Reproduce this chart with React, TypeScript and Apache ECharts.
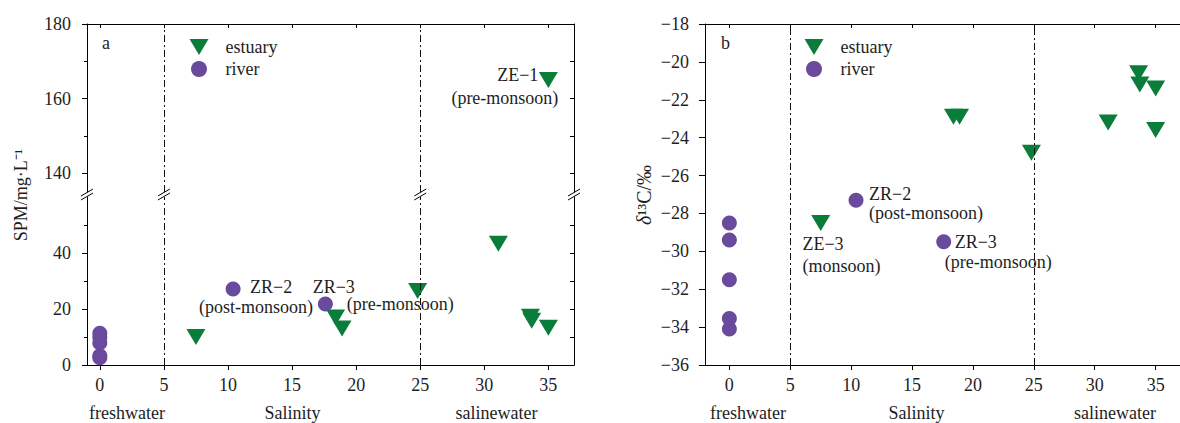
import React, { useEffect, useRef } from 'react';
import * as echarts from 'echarts';

// ---------- data ----------
const salinityTicks = [0, 5, 10, 15, 20, 25, 30, 35];
const spmUpperLabels = [140, 160, 180];
const spmUpperMinor = [150, 170];
const spmUpperRight = [140, 150, 160, 170, 180];
const spmLowerLabels = [0, 20, 40];
const spmLowerMinor = [10, 30, 50];
const spmLowerRight = [10, 20, 30, 40, 50];
const zoneBounds = [5, 25];
const zoneNames = ['freshwater', 'Salinity', 'salinewater'];
const legendNames = ['estuary', 'river'];
const panelLetters = ['a', 'b'];

const estuarySalinity = [7.5, 18.4, 18.9, 24.8, 31.1, 33.6, 33.7, 35.0, 35.0];
const estuarySPM = [10, 17, 13, 26.4, 43.3, 17.2, 15.8, 13.3, 165];
const estuaryD13C = [-28.5, -22.9, -22.9, -24.8, -23.2, -20.6, -21.2, -23.6, -21.4];

const riverSalinity = [0, 0, 0, 0, 0, 10.4, 17.6];
const riverSPM = [11.3, 9.8, 7.9, 3.3, 2.6, 27.1, 21.8];
const riverD13C = [-28.5, -29.4, -31.5, -33.55, -34.1, -27.3, -29.5];

// annotations
const noteZE1 = ['ZE\u22121', '(pre-monsoon)'];
const noteZE3 = ['ZE\u22123', '(monsoon)'];
const noteZR2 = ['ZR\u22122', '(post-monsoon)'];
const noteZR3 = ['ZR\u22123', '(pre-monsoon)'];

const SPM_BREAK = 100;

// ---------- styles ----------
const FONT = 'Liberation Serif';
const TXT = '#1e1e1e';
const GREEN = '#0a7d3a';
const PURPLE = '#6a4a9c';
const TRI = 'path://M0 0L19 0L9.5 16Z';

const lbl = (extra: any = {}) => ({
  fontFamily: FONT,
  fontSize: 18,
  color: TXT,
  ...extra,
});

function noteLabel(lines: string[], dx: number, dy: number, align: string, lh: number, pad1: number[], pad2: number[]) {
  return {
    show: true,
    position: 'inside',
    offset: [dx, dy],
    align,
    verticalAlign: 'middle',
    formatter: `{a|${lines[0]}}\n{b|${lines[1]}}`,
    rich: {
      a: lbl({ lineHeight: lh, padding: pad1 }),
      b: lbl({ lineHeight: lh, padding: pad2 }),
    },
  };
}

const axisLineStyle = { color: '#000', width: 1 };

function xAxisBase(grid: number, min: number, max: number, position: string, tickInside: boolean, showLabels: boolean) {
  return {
    type: 'value',
    gridIndex: grid,
    min,
    max,
    position,
    axisLine: { show: true, onZero: false, lineStyle: axisLineStyle },
    axisTick: { show: true, inside: tickInside, length: tickInside ? 4 : 5, customValues: salinityTicks, lineStyle: axisLineStyle },
    axisLabel: showLabels ? { show: true, customValues: salinityTicks, margin: 11, ...lbl() } : { show: false },
    splitLine: { show: false },
  };
}

function yAxisBase(grid: number, min: number, max: number, position: string, opts: any) {
  return {
    type: 'value',
    gridIndex: grid,
    min,
    max,
    position,
    axisLine: { show: opts.line, onZero: false, lineStyle: axisLineStyle },
    axisTick: { show: true, inside: !!opts.inside, length: opts.len, customValues: opts.ticks, lineStyle: axisLineStyle },
    axisLabel: opts.labels ? { show: true, customValues: opts.labels, margin: 16, ...lbl() } : { show: false },
    splitLine: { show: false },
  };
}

const zoneMarkLine = {
  silent: true,
  symbol: 'none',
  label: { show: false },
  lineStyle: { type: [7, 3, 2, 3], color: '#111', width: 1 },
  data: zoneBounds.map((v) => ({ xAxis: v })),
};

export default function App() {
  const ref = useRef<HTMLDivElement>(null);

  useEffect(() => {
    document.body.style.margin = '0';
    const chart = echarts.init(ref.current!, null, { renderer: 'svg' });

    const estUpper: any[] = [];
    const estLower: any[] = [];
    estuarySalinity.forEach((x, i) => {
      const item: any = { value: [x, estuarySPM[i]] };
      if (i === 8) item.label = noteLabel(noteZE1, 10, 6.5, 'right', 23, [0, 20, 0, 0], [0, 0, 0, 0]);
      (estuarySPM[i] > SPM_BREAK ? estUpper : estLower).push(item);
    });
    const rivLower = riverSalinity.map((x, i) => {
      const item: any = { value: [x, riverSPM[i]] };
      if (i === 5) item.label = noteLabel(noteZR2, -34, 8, 'left', 20, [0, 0, 0, 51], [0, 0, 0, 0]);
      if (i === 6) item.label = noteLabel(noteZR3, -12.7, -8.4, 'left', 17, [0, 0, 0, 0], [0, 0, 0, 34]);
      return item;
    });
    const estRight = estuarySalinity.map((x, i) => {
      const item: any = { value: [x, estuaryD13C[i]] };
      if (i === 0) item.label = noteLabel(noteZE3, -18.3, 31.8, 'left', 21.7, [0, 0, 0, 0], [0, 0, 0, 0]);
      return item;
    });
    const rivRight = riverSalinity.map((x, i) => {
      const item: any = { value: [x, riverD13C[i]] };
      if (i === 5) item.label = noteLabel(noteZR2, 13, 3.8, 'left', 19, [0, 0, 0, 0], [0, 0, 0, 0]);
      if (i === 6) item.label = noteLabel(noteZR3, 1, 10.3, 'left', 20.6, [0, 0, 0, 10], [0, 0, 0, 0]);
      return item;
    });

    const estStyle = { symbol: TRI, symbolSize: [19, 16], itemStyle: { color: GREEN, opacity: 1 } };
    const rivStyle = { symbol: 'circle', symbolSize: 15, itemStyle: { color: PURPLE, opacity: 1 } };

    const legendBase = (left: number) => ({
      left,
      top: 38,
      padding: 0,
      orient: 'vertical',
      itemWidth: 19,
      itemHeight: 16,
      itemGap: 4,
      selectedMode: false,
      data: [
        { name: legendNames[0], icon: TRI },
        { name: legendNames[1], icon: 'circle' },
      ],
      textStyle: lbl({ padding: [0, 0, 0, 12] }),
    });

    chart.setOption({
      animation: false,
      grid: [
        { left: 87, top: 24, width: 487, height: 168 },
        { left: 87, top: 197, width: 487, height: 168 },
        { left: 705, top: 24, width: 486, height: 341 },
      ],
      xAxis: [
        xAxisBase(0, -1, 37, 'top', true, false),
        xAxisBase(1, -1, 37, 'bottom', false, true),
        xAxisBase(2, -2, 37, 'bottom', false, true),
        xAxisBase(2, -2, 37, 'top', true, false),
      ],
      yAxis: [
        yAxisBase(0, 135, 180, 'left', { line: true, len: 5, ticks: spmUpperLabels, labels: spmUpperLabels }),
        yAxisBase(0, 135, 180, 'left', { line: false, len: 3, ticks: spmUpperMinor }),
        yAxisBase(0, 135, 180, 'right', { line: true, len: 4, inside: true, ticks: spmUpperRight }),
        yAxisBase(1, 0, 60, 'left', { line: true, len: 5, ticks: spmLowerLabels, labels: spmLowerLabels }),
        yAxisBase(1, 0, 60, 'left', { line: false, len: 3, ticks: spmLowerMinor }),
        yAxisBase(1, 0, 60, 'right', { line: true, len: 4, inside: true, ticks: spmLowerRight }),
        {
          type: 'value',
          gridIndex: 2,
          min: -36,
          max: -18,
          interval: 2,
          position: 'left',
          axisLine: { show: true, onZero: false, lineStyle: axisLineStyle },
          axisTick: { show: true, length: 6, lineStyle: axisLineStyle },
          axisLabel: {
            margin: 16,
            ...lbl(),
            formatter: (v: number) => (v < 0 ? '\u2212' + Math.abs(v) : String(v)),
          },
          splitLine: { show: false },
        },
      ],
      legend: [legendBase(189.5), legendBase(804.5)],
      series: [
        { name: legendNames[0], type: 'scatter', xAxisIndex: 0, yAxisIndex: 0, data: estUpper, ...estStyle, markLine: zoneMarkLine, z: 3 },
        { name: legendNames[0], type: 'scatter', xAxisIndex: 1, yAxisIndex: 3, data: estLower, ...estStyle, markLine: zoneMarkLine, z: 3 },
        { name: legendNames[1], type: 'scatter', xAxisIndex: 1, yAxisIndex: 3, data: rivLower, ...rivStyle, z: 2 },
        { name: legendNames[0], type: 'scatter', xAxisIndex: 2, yAxisIndex: 6, data: estRight, ...estStyle, markLine: zoneMarkLine, z: 3 },
        { name: legendNames[1], type: 'scatter', xAxisIndex: 2, yAxisIndex: 6, data: rivRight, ...rivStyle, z: 2 },
      ],
    });

    // decorations: axis breaks, zone names, panel letters, axis titles
    const yb = 194.5;
    const breakXs = [87, chart.convertToPixel({ xAxisIndex: 1 }, zoneBounds[0]), chart.convertToPixel({ xAxisIndex: 1 }, zoneBounds[1]), 574];
    const breakEls: any[] = [];
    breakXs.forEach((x: number) => {
      [-2, 2].forEach((d) => {
        breakEls.push({
          type: 'line',
          shape: { x1: x - 6, y1: yb + d + 3.5, x2: x + 6, y2: yb + d - 3.5 },
          style: { stroke: '#000', lineWidth: 1 },
          silent: true,
        });
      });
    });
    const zoneX = [[127, 292.5, 496.5], [748, 916.5, 1115]];
    const textEls: any[] = [];
    zoneX.forEach((xs) =>
      xs.forEach((x, i) =>
        textEls.push({ type: 'text', x, y: 413, style: { text: zoneNames[i], ...lbl(), fill: TXT, align: 'center', verticalAlign: 'middle' }, silent: true })
      )
    );
    textEls.push({ type: 'text', x: 102, y: 43, style: { text: panelLetters[0], ...lbl(), fill: TXT, align: 'left', verticalAlign: 'middle' } });
    textEls.push({ type: 'text', x: 721, y: 43, style: { text: panelLetters[1], ...lbl(), fill: TXT, align: 'left', verticalAlign: 'middle' } });
    textEls.push({
      type: 'text', x: 21, y: 195, rotation: Math.PI / 2,
      style: { text: 'SPM/mg\u00b7L\u207b\u00b9', ...lbl(), fill: TXT, align: 'center', verticalAlign: 'middle' },
    });
    textEls.push({
      type: 'text', x: 644, y: 195, rotation: Math.PI / 2,
      style: {
        text: '{i|\u03b4}{s|\u00b9\u00b3}C/\u2030',
        ...lbl({ fontSize: 20 }), fill: TXT, align: 'center', verticalAlign: 'middle',
        rich: { i: lbl({ fontSize: 20, fontStyle: 'italic' }), s: lbl({ fontSize: 20 }) },
      },
    });

    chart.setOption({ graphic: [...breakEls, ...textEls] });

    return () => chart.dispose();
  }, []);

  return <div ref={ref} style={{ width: 1180, height: 423 }} />;
}
